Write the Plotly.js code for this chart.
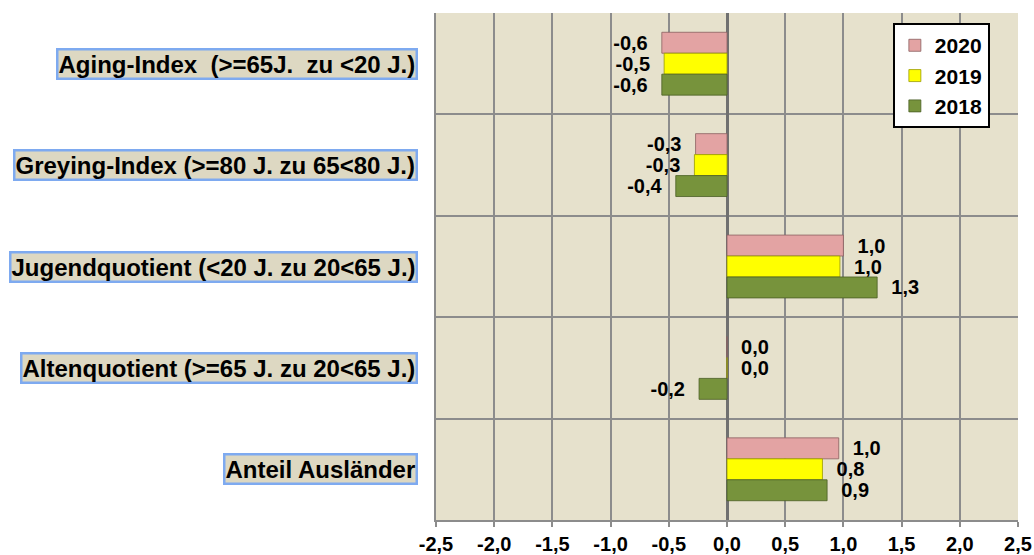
<!DOCTYPE html>
<html>
<head>
<meta charset="utf-8">
<script src="https://cdn.plot.ly/plotly-3.0.1.min.js"></script>
<style>html,body{margin:0;padding:0;background:#fff;}#chart{width:1034px;height:555px;}</style>
</head>
<body>
<div id="chart"></div>
<script>
var categories = [
  "Aging-Index  (>=65J.  zu <20 J.)",
  "Greying-Index (>=80 J. zu 65<80 J.)",
  "Jugendquotient (<20 J. zu 20<65 J.)",
  "Altenquotient (>=65 J. zu 20<65 J.)",
  "Anteil Ausländer"
];
var seriesNames = ["2020", "2019", "2018"];
var values2020 = [-0.56, -0.27, 1.00, 0.00, 0.96];
var values2019 = [-0.54, -0.28, 0.97, 0.00, 0.82];
var values2018 = [-0.56, -0.44, 1.29, -0.24, 0.86];
var xTickVals = [-2.5, -2.0, -1.5, -1.0, -0.5, 0.0, 0.5, 1.0, 1.5, 2.0, 2.5];

function fmt(v) {
  var s = (Math.round(v * 10) / 10).toFixed(1).replace(".", ",");
  if (s === "-0,0") s = "0,0";
  return s;
}
var NB = "\u00a0";
function barLabel(v) {
  var s = fmt(v);
  return v < 0 ? s + NB + NB : NB + NB + s;
}

var colors = ["#e3a3a3", "#ffff00", "#77933c"];
var lineColors = ["#8a5f5f", "#9a9a00", "#4a5e24"];
var allValues = [values2020, values2019, values2018];

var FONT = "Liberation Sans, Arial, Helvetica, sans-serif";

var traces = seriesNames.map(function (name, i) {
  return {
    type: "bar",
    orientation: "h",
    name: name,
    legendgroup: name,
    y: categories,
    x: allValues[i],
    marker: { color: colors[i], line: { color: lineColors[i], width: 0.8 } },
    text: allValues[i].map(barLabel),
    texttemplate: "%{text}",
    textposition: "outside",
    constraintext: "none",
    cliponaxis: false,
    textfont: { family: FONT, size: 20, color: "#000", weight: "bold" },
    hoverinfo: "skip"
  };
});

var annotations = categories.map(function (c) {
  return {
    xref: "paper", yref: "y",
    x: 0, y: c,
    xanchor: "right", yanchor: "middle",
    xshift: -18,
    showarrow: false,
    text: c,
    font: { family: FONT, size: 24, color: "#000", weight: "bold" },
    bgcolor: "#ddd8c2",
    bordercolor: "#7eaaf0",
    borderwidth: 2.5,
    borderpad: 0
  };
});

var layout = {
  width: 1034, height: 555,
  margin: { l: 436, r: 16, t: 13, b: 35 },
  paper_bgcolor: "#ffffff",
  plot_bgcolor: "#e6e1cc",
  barmode: "group",
  bargap: 0.38,
  bargroupgap: 0,
  showlegend: true,
  legend: {
    x: 0.785, y: 0.98, xanchor: "left", yanchor: "top",
    bgcolor: "#ffffff", bordercolor: "#000000", borderwidth: 2,
    font: { family: FONT, size: 21, color: "#000", weight: "bold" },
    tracegroupgap: 6,
    traceorder: "normal"
  },
  xaxis: {
    range: [-2.5, 2.5],
    tickvals: xTickVals,
    ticktext: xTickVals.map(fmt),
    showgrid: true, gridcolor: "#8c8c8c", gridwidth: 2,
    zeroline: true, zerolinecolor: "#707070", zerolinewidth: 3,
    showline: true, linecolor: "#8c8c8c", linewidth: 2,
    ticks: "outside", ticklen: 5, tickcolor: "#8c8c8c", tickwidth: 2,
    tickfont: { family: FONT, size: 20, color: "#000", weight: "bold" },
    fixedrange: true
  },
  yaxis: {
    type: "category",
    categoryorder: "array",
    categoryarray: categories,
    autorange: "reversed",
    tickson: "boundaries",
    showgrid: true, gridcolor: "#8c8c8c", gridwidth: 2,
    showline: true, linecolor: "#8c8c8c", linewidth: 2,
    showticklabels: false,
    ticks: "",
    fixedrange: true
  },
  annotations: annotations
};

Plotly.newPlot("chart", traces, layout, { staticPlot: true, displayModeBar: false });
</script>
</body>
</html>
